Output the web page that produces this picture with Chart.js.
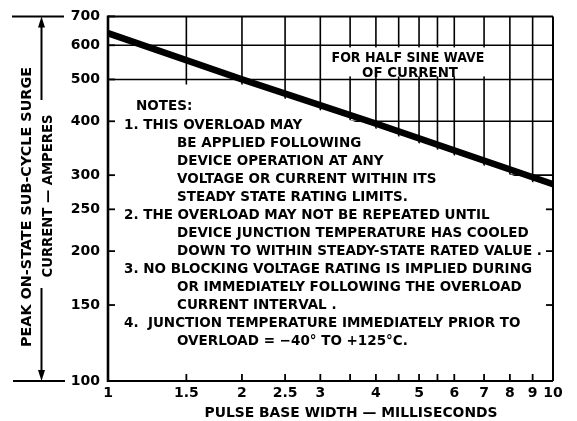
<!DOCTYPE html>
<html><head><meta charset="utf-8">
<script src="https://cdn.jsdelivr.net/npm/chart.js@4/dist/chart.umd.min.js"></script>
<style>html,body{margin:0;padding:0;background:#fff}#wrap{width:577px;height:421px}</style>
</head><body><div id="wrap"><canvas id="c" width="577" height="421"></canvas></div>
<script>
// ---- data ----
const pulseWidthMs = [1, 2, 4, 10];
const surgeCurrentA = [640, 500, 395, 286];
const xTickValues = [1, 1.5, 2, 2.5, 3, 3.5, 4, 4.5, 5, 5.5, 6, 7, 8, 9, 10];
const xLabelValues = [1, 1.5, 2, 2.5, 3, 4, 5, 6, 7, 8, 9, 10];
const yTickValues = [100, 150, 200, 250, 300, 400, 500, 600, 700];
const yGridValues = [300, 400, 500, 600];
const yRightTicks = [150, 200, 250];
const xTitle = 'PULSE BASE WIDTH — MILLISECONDS';
const yTitle1 = 'PEAK ON-STATE SUB-CYCLE SURGE';
const yTitle2 = 'CURRENT — AMPERES';
const waveNote = ['FOR HALF SINE WAVE', 'OF CURRENT'];
const noteHeading = 'NOTES:';
const noteItems = [
  ['1. THIS OVERLOAD MAY', 'BE APPLIED FOLLOWING', 'DEVICE OPERATION AT ANY', 'VOLTAGE OR CURRENT WITHIN ITS', 'STEADY STATE RATING LIMITS.'],
  ['2. THE OVERLOAD MAY NOT BE REPEATED UNTIL', 'DEVICE JUNCTION TEMPERATURE HAS COOLED', 'DOWN TO WITHIN STEADY-STATE RATED VALUE .'],
  ['3. NO BLOCKING VOLTAGE RATING IS IMPLIED DURING', 'OR IMMEDIATELY FOLLOWING THE OVERLOAD', 'CURRENT INTERVAL .'],
  ['4.  JUNCTION TEMPERATURE IMMEDIATELY PRIOR TO', 'OVERLOAD = −40° TO +125°C.']
];

const FONT = '"DejaVu Sans", sans-serif';

function fitText(ctx, text, x, y, w, align) {
  const m = ctx.measureText(text).width;
  ctx.save();
  ctx.translate(x, y);
  ctx.scale(w / m, 1);
  ctx.textAlign = 'left';
  ctx.fillText(text, align === 'center' ? -m / 2 : 0, 0);
  ctx.restore();
}

const paper = {
  id: 'paper',
  beforeDatasetsDraw(chart) {
    const { ctx, chartArea: a, scales: { x, y } } = chart;
    const pts = chart.getDatasetMeta(0).data.map(p => ({ x: p.x, y: p.y }));
    const curveY = px => {
      let i = 0;
      while (i < pts.length - 2 && px > pts[i + 1].x) i++;
      const p0 = pts[i], p1 = pts[i + 1];
      return p0.y + (p1.y - p0.y) * (px - p0.x) / (p1.x - p0.x);
    };
    const y500 = y.getPixelForValue(500);
    const bound = px => Math.max(curveY(px), y500) + 5;

    // grid, only above the curve region
    ctx.save();
    ctx.beginPath();
    ctx.moveTo(a.left, a.top);
    ctx.lineTo(a.right, a.top);
    for (let px = a.right; px >= a.left; px -= 1) ctx.lineTo(px, bound(px));
    ctx.closePath();
    ctx.clip();
    ctx.strokeStyle = '#000';
    ctx.lineWidth = 1.6;
    xTickValues.forEach(v => {
      if (v <= 1 || v >= 10) return;
      const px = x.getPixelForValue(v);
      ctx.beginPath(); ctx.moveTo(px, a.top); ctx.lineTo(px, a.bottom); ctx.stroke();
    });
    yGridValues.forEach(v => {
      const py = y.getPixelForValue(v);
      ctx.beginPath(); ctx.moveTo(a.left, py); ctx.lineTo(a.right, py); ctx.stroke();
    });
    ctx.restore();

    // label box for the wave note
    const bx = a.left + 222, by = a.top + 31, bw = 158, bh = 29;
    ctx.fillStyle = '#fff';
    ctx.fillRect(bx, by, bw, bh);
    ctx.fillStyle = '#000';
    ctx.font = 'bold 14px ' + FONT;
    ctx.textBaseline = 'middle';
    fitText(ctx, waveNote[0], a.left + 300, a.top + 42, 153, 'center');
    fitText(ctx, waveNote[1], a.left + 302, a.top + 57, 96, 'center');

    // tick stubs
    ctx.strokeStyle = '#000';
    ctx.lineWidth = 1.8;
    yTickValues.forEach(v => {
      const py = y.getPixelForValue(v);
      ctx.beginPath(); ctx.moveTo(a.left, py); ctx.lineTo(a.left + 7, py); ctx.stroke();
    });
    yRightTicks.forEach(v => {
      const py = y.getPixelForValue(v);
      ctx.beginPath(); ctx.moveTo(a.right, py); ctx.lineTo(a.right - 7, py); ctx.stroke();
    });
    xTickValues.forEach(v => {
      const px = x.getPixelForValue(v);
      ctx.beginPath(); ctx.moveTo(px, a.bottom); ctx.lineTo(px, a.bottom - 7); ctx.stroke();
    });

    // frame
    ctx.lineWidth = 2;
    ctx.beginPath(); ctx.moveTo(a.left, a.top); ctx.lineTo(a.right, a.top); ctx.stroke();
    ctx.beginPath(); ctx.moveTo(a.right, a.top); ctx.lineTo(a.right, a.bottom); ctx.stroke();
    ctx.beginPath(); ctx.moveTo(a.left, a.bottom); ctx.lineTo(a.right, a.bottom); ctx.stroke();
    ctx.lineWidth = 2.6;
    ctx.beginPath(); ctx.moveTo(a.left, a.top - 1); ctx.lineTo(a.left, a.bottom + 1); ctx.stroke();

    // notes
    ctx.font = 'bold 14px ' + FONT;
    ctx.textBaseline = 'middle';
    const s = 408 / ctx.measureText(noteItems[2][0]).width;
    const drawScaled = (t, px, py) => {
      ctx.save(); ctx.translate(px, py); ctx.scale(s, 1); ctx.textAlign = 'left'; ctx.fillText(t, 0, 0); ctx.restore();
    };
    drawScaled(noteHeading, a.left + 28, a.top + 90);
    let row = 0;
    noteItems.forEach(item => {
      item.forEach((t, k) => {
        drawScaled(t, a.left + (k === 0 ? 16 : 69), a.top + 109 + row * 18);
        row++;
      });
    });
  },
  afterDraw(chart) {
    const { ctx, scales: { y } } = chart;
    const yTop = y.getPixelForValue(700), yBot = y.getPixelForValue(100);
    ctx.save();
    ctx.strokeStyle = '#000';
    ctx.fillStyle = '#000';
    ctx.lineWidth = 2;
    ctx.beginPath(); ctx.moveTo(12, yTop); ctx.lineTo(64, yTop); ctx.stroke();
    ctx.beginPath(); ctx.moveTo(13, yBot); ctx.lineTo(65, yBot); ctx.stroke();
    const ax = 41.5;
    ctx.beginPath(); ctx.moveTo(ax, yTop + 8); ctx.lineTo(ax, 100); ctx.stroke();
    ctx.beginPath(); ctx.moveTo(ax, 288); ctx.lineTo(ax, yBot - 8); ctx.stroke();
    ctx.beginPath(); ctx.moveTo(ax, yTop); ctx.lineTo(ax - 3.5, yTop + 11); ctx.lineTo(ax + 3.5, yTop + 11); ctx.closePath(); ctx.fill();
    ctx.beginPath(); ctx.moveTo(ax, yBot); ctx.lineTo(ax - 3.5, yBot - 11); ctx.lineTo(ax + 3.5, yBot - 11); ctx.closePath(); ctx.fill();
    ctx.font = 'bold 14px ' + FONT;
    ctx.textBaseline = 'middle';
    ctx.save(); ctx.translate(27, 207); ctx.rotate(-Math.PI / 2); fitText(ctx, yTitle1, 0, 0, 280, 'center'); ctx.restore();
    ctx.save(); ctx.translate(48, 196); ctx.rotate(-Math.PI / 2); fitText(ctx, yTitle2, 0, 0, 163, 'center'); ctx.restore();
    ctx.font = 'bold 14px ' + FONT;
    fitText(ctx, xTitle, 351, 413, 293, 'center');
    ctx.restore();
  }
};

new Chart(document.getElementById('c'), {
  type: 'line',
  data: {
    datasets: [{
      data: pulseWidthMs.map((v, i) => ({ x: v, y: surgeCurrentA[i] })),
      borderColor: '#000',
      borderWidth: 6.5,
      borderCapStyle: 'butt',
      pointRadius: 0,
      tension: 0,
      fill: false
    }]
  },
  options: {
    responsive: false,
    animation: false,
    devicePixelRatio: 1,
    layout: { padding: { top: 13, right: 24, left: 0, bottom: 0 } },
    plugins: { legend: { display: false }, tooltip: { enabled: false } },
    scales: {
      x: {
        type: 'logarithmic', min: 1, max: 10,
        grid: { display: false, drawTicks: false },
        border: { display: false },
        afterBuildTicks: s => { s.ticks = xTickValues.map(v => ({ value: v })); },
        afterFit: s => { s.height = 40; },
        ticks: {
          autoSkip: false, maxRotation: 0, padding: 4, color: '#000',
          font: { family: FONT, weight: 'bold', size: 14 },
          callback: v => xLabelValues.includes(v) ? String(v) : ''
        }
      },
      y: {
        type: 'logarithmic', min: 100, max: 700,
        grid: { display: false, drawTicks: false },
        border: { display: false },
        afterBuildTicks: s => { s.ticks = yTickValues.map(v => ({ value: v })); },
        afterFit: s => { s.width = 108; },
        ticks: {
          autoSkip: false, padding: 8, color: '#000',
          font: { family: FONT, weight: 'bold', size: 14 },
          callback: v => String(v)
        }
      }
    }
  },
  plugins: [paper]
});
</script>
</body></html>
